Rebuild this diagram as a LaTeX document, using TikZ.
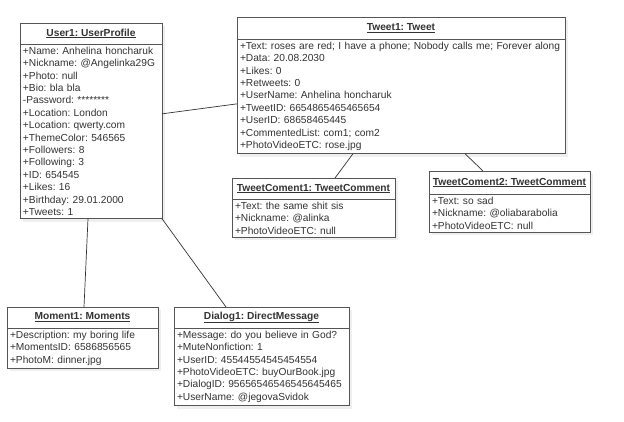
\documentclass[tikz,border=0pt]{standalone}
\usepackage{fontspec}
\setmainfont{Liberation Sans}
\usetikzlibrary{positioning,shadows}
\definecolor{boxline}{HTML}{555555}
\definecolor{txt}{HTML}{333333}
\definecolor{shade}{HTML}{EFEFEF}
\frenchspacing

\begin{document}
\begin{tikzpicture}[x=1pt, y=-1pt,
  every node/.style={font=\fontsize{10.2}{12.4}\selectfont, text=txt},
  obj head/.style={draw=boxline, fill=white, line width=0.8pt, outer sep=0pt, inner sep=0pt,
    minimum height=21pt, anchor=north west, font=\fontsize{10.2}{12.4}\selectfont\bfseries,
    drop shadow={shadow xshift=3pt, shadow yshift=-3pt, fill=shade, opacity=1}},
  obj attrs/.style={draw=boxline, fill=white, line width=0.8pt, outer sep=0pt,
    inner xsep=3pt, inner ysep=3pt, align=left,
    drop shadow={shadow xshift=3pt, shadow yshift=-3pt, fill=shade, opacity=1}},
  link/.style={draw=txt, line width=0.7pt}]
\useasboundingbox (0,0) rectangle (624,422);

\node[obj head, minimum width=142pt] (user) at (20,23) {\underline{User1: UserProfile}};
\node[obj attrs, text width=136pt, below=0pt of user] (userattr) {+Name: Anhelina honcharuk\\
+Nickname: @Angelinka29G\\
+Photo: null\\
+Bio: bla bla\\
-Password: ********\\
+Location: London\\
+Location: qwerty.com\\
+ThemeColor: 546565\\
+Followers: 8\\
+Following: 3\\
+ID: 654545\\
+Likes: 16\\
+Birthday: 29.01.2000\\
+Tweets: 1};

\node[obj head, minimum width=328pt, minimum height=22pt] (tweet) at (237,17) {\underline{Tweet1: Tweet}};
\node[obj attrs, text width=322pt, below=0pt of tweet] (tweetattr) {+Text: roses are red; I have a phone; Nobody calls me; Forever along\\
+Data: 20.08.2030\\
+Likes: 0\\
+Retweets: 0\\
+UserName: Anhelina honcharuk\\
+TweetID: 6654865465465654\\
+UserID: 68658465445\\
+CommentedList: com1; com2\\
+PhotoVideoETC: rose.jpg};

\node[obj head, minimum width=163pt] (coment1) at (232,178) {\underline{TweetComent1: TweetComment}};
\node[obj attrs, text width=157pt, below=0pt of coment1] (coment1attr) {+Text: the same shit sis\\
+Nickname: @alinka\\
+PhotoVideoETC: null};

\node[obj head, minimum width=161pt, minimum height=23pt] (coment2) at (429,171) {\underline{TweetComent2: TweetComment}};
\node[obj attrs, text width=155pt, below=0pt of coment2] (coment2attr) {+Text: so sad\\
+Nickname: @oliabarabolia\\
+PhotoVideoETC: null};

\node[obj head, minimum width=151pt] (moment) at (7,307) {\underline{Moment1: Moments}};
\node[obj attrs, text width=145pt, below=0pt of moment] (momentattr) {+Description: my boring life\\
+MomentsID: 6586856565\\
+PhotoM: dinner.jpg};

\node[obj head, minimum width=175pt] (dialog) at (174,307) {\underline{Dialog1: DirectMessage}};
\node[obj attrs, text width=169pt, below=0pt of dialog] (dialogattr) {+Message: do you believe in God?\\
+MuteNonfiction: 1\\
+UserID: 45544554545454554\\
+PhotoVideoETC: buyOurBook.jpg\\
+DialogID: 95656546546545645465\\
+UserName: @jegovaSvidok};

% links
\draw[link] ([yshift=17.5pt]userattr.east) -- ([yshift=-7.5pt]tweetattr.west);
\draw[link] ([xshift=-48pt]tweetattr.south) -- ([xshift=21.5pt]coment1.north);
\draw[link] ([xshift=64pt]tweetattr.south) -- ([xshift=-26.5pt]coment2.north);
\draw[link] ([xshift=-3pt]userattr.south) -- ([xshift=1.5pt]moment.north);
\draw[link] (userattr.south east) -- ([xshift=-35.5pt]dialog.north);
\end{tikzpicture}
\end{document}
